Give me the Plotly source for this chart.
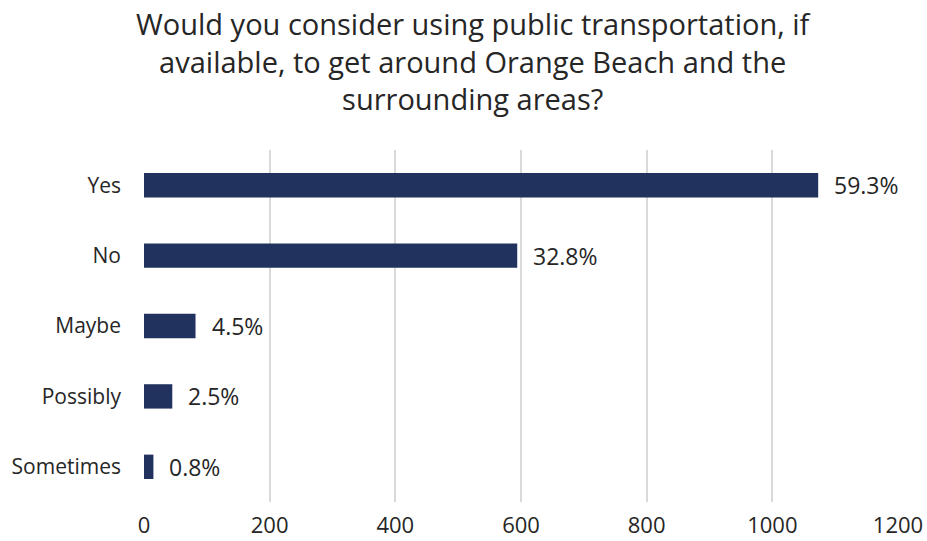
import plotly.graph_objects as go

# Survey responses (counts) and answer categories
answers = ["Yes", "No", "Maybe", "Possibly", "Sometimes"]
counts = [1073, 594, 82, 45, 15]
x_ticks = [0, 200, 400, 600, 800, 1000, 1200]

total = sum(counts)
share_labels = [f"{c / total * 100:.1f}%" for c in counts]

title_text = ("Would you consider using public transportation, if<br>"
              "available, to get around Orange Beach and the<br>"
              "surrounding areas?")

FONT = "Open Sans"
TEXT_COLOR = "#262626"
BAR_COLOR = "#22325F"

fig = go.Figure()
fig.add_trace(go.Bar(
    y=answers,
    x=counts,
    orientation="h",
    marker=dict(color=BAR_COLOR, line=dict(width=0)),
    hoverinfo="x+y",
))

# Percentage labels to the right of each bar
for a, c, lab in zip(answers, counts, share_labels):
    fig.add_annotation(
        x=c, y=a, text=lab, showarrow=False,
        xanchor="left", yanchor="middle", xshift=14,
        font=dict(family=FONT, size=23, color=TEXT_COLOR),
    )

# Chart title, three centred lines above the plot area
fig.add_annotation(
    text=title_text, showarrow=False,
    xref="paper", yref="paper", x=0.438, y=1.253,
    xanchor="center", yanchor="middle", align="center",
    font=dict(family=FONT, size=29, color=TEXT_COLOR),
)

fig.update_layout(
    width=927, height=541,
    margin=dict(l=144, r=29, t=150, b=39),
    paper_bgcolor="white",
    plot_bgcolor="white",
    bargap=0.654,
    showlegend=False,
    font=dict(family=FONT, size=22, color=TEXT_COLOR),
    xaxis=dict(
        range=[0, 1200],
        tickvals=x_ticks,
        showgrid=True, gridcolor="#D9D9D9", gridwidth=1.5,
        zeroline=False, showline=False, ticks="",
        tickfont=dict(family=FONT, size=22, color=TEXT_COLOR),
        ticklabelstandoff=8,
        automargin=False,
        fixedrange=True,
    ),
    yaxis=dict(
        categoryorder="array", categoryarray=answers,
        autorange="reversed",
        showgrid=False, zeroline=False, showline=False, ticks="",
        tickfont=dict(family=FONT, size=21, color=TEXT_COLOR),
        ticklabelstandoff=22,
        automargin=False,
        fixedrange=True,
    ),
)

fig.write_html("out.html")
